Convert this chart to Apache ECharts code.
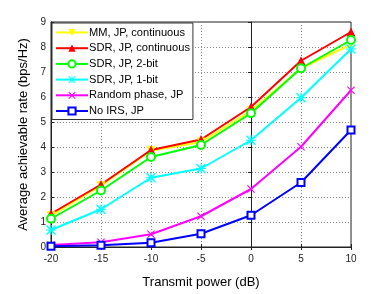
<!DOCTYPE html>
<html><head><meta charset="utf-8">
<script src="https://cdn.jsdelivr.net/npm/echarts@6/dist/echarts.min.js"></script>
<style>html,body{margin:0;padding:0;background:#fff}#c{width:388px;height:294px}</style>
</head><body><div id="c"></div>
<script>
var xValues = [-20, -15, -10, -5, 0, 5, 10];
var mmCont = [1.25, 2.45, 3.85, 4.2, 5.45, 7.15, 8.1];
var sdrCont = [1.33, 2.5, 3.88, 4.3, 5.6, 7.45, 8.6];
var sdr2bit = [1.13, 2.26, 3.6, 4.08, 5.35, 7.15, 8.28];
var sdr1bit = [0.68, 1.51, 2.77, 3.14, 4.27, 5.97, 7.92];
var randPhase = [0.08, 0.19, 0.51, 1.23, 2.32, 4.01, 6.27];
var noIrs = [0.03, 0.07, 0.17, 0.53, 1.27, 2.58, 4.68];
var seriesNames = ['MM, JP, continuous', 'SDR, JP, continuous', 'SDR, JP, 2-bit', 'SDR, JP, 1-bit', 'Random phase, JP', 'No IRS, JP'];
var yTicks = [0, 1, 2, 3, 4, 5, 6, 7, 8, 9];

var crossPath = 'path://M0,1 L1,0 L10,9 L9,10 Z M9,0 L10,1 L1,10 L0,9 Z';
var starPath = 'path://M0,1 L1,0 L10,9 L9,10 Z M9,0 L10,1 L1,10 L0,9 Z M4.4,0 L5.6,0 L5.6,10 L4.4,10 Z M0,4.4 L10,4.4 L10,5.6 L0,5.6 Z';
var downTri = 'path://M0,0 L10,0 L5,9 Z';

function pairs(arr){ return xValues.map(function(x,i){return [x, arr[i]];}); }
function mk(name, data, color, symbol, size, hollow){
  return {
    name: name, type: 'line', data: pairs(data), symbol: symbol, symbolSize: size,
    lineStyle: {color: color, width: 2}, itemStyle: hollow ? {color: '#fff', borderColor: color, borderWidth: 2} : {color: color},
    color: color, z: 3
  };
}
var chart = echarts.init(document.getElementById('c'));
var font = 'Liberation Sans, Arial, sans-serif';
chart.setOption({
  animation: false,
  textStyle: {fontFamily: font},
  grid: {left: 51, right: 37, top: 22, bottom: 38, show: true, borderColor: '#222', borderWidth: 1, backgroundColor: 'transparent'},
  legend: {
    data: seriesNames, orient: 'vertical', left: 52, top: 23, padding: [4, 3, 3, 3],
    itemWidth: 32, itemHeight: 9, itemGap: 4.7, backgroundColor: '#fff', borderColor: '#333', borderWidth: 1,
    textStyle: {fontSize: 11.1, color: '#000', fontFamily: font, padding: [0,0,0,-4]}
  },
  xAxis: [{
    type: 'value', min: -20, max: 10, interval: 5,
    name: 'Transmit power (dB)', nameLocation: 'middle', nameGap: 29,
    nameTextStyle: {fontSize: 13, color: '#000', fontFamily: font},
    axisLine: {show: true, onZero: false, lineStyle: {color: '#222'}},
    axisTick: {inside: true, length: 3, lineStyle: {color: '#222'}},
    axisLabel: {fontSize: 10, color: '#222', margin: 7},
    splitLine: {show: true, lineStyle: {color: '#888', type: [1, 2], width: 1}}
  }, {
    type: 'value', position: 'top', min: -20, max: 10, interval: 5,
    axisLine: {show: true, lineStyle: {color: '#222'}}, axisTick: {inside: true, length: 3, lineStyle:{color:'#222'}},
    axisLabel: {show: false}, splitLine: {show: false}
  }],
  yAxis: [{
    type: 'value', min: 0, max: 9, interval: 1,
    name: 'Average achievable rate (bps/Hz)', nameLocation: 'middle', nameGap: 14,
    nameTextStyle: {fontSize: 13, color: '#000', fontFamily: font},
    axisLine: {show: true, onZero: false, lineStyle: {color: '#222'}},
    axisTick: {inside: true, length: 3, lineStyle: {color: '#222'}},
    axisLabel: {fontSize: 10, color: '#222', margin: 5, formatter: function(v){return yTicks.indexOf(v) >= 0 ? String(v) : '';}},
    splitLine: {show: true, lineStyle: {color: '#888', type: [1, 2], width: 1}}
  }, {
    type: 'value', position: 'right', min: 0, max: 9, interval: 1,
    axisLine: {show: true, lineStyle: {color: '#222'}}, axisTick: {inside: true, length: 3, lineStyle:{color:'#222'}},
    axisLabel: {show: false}, splitLine: {show: false}
  }],
  series: [
    mk(seriesNames[0], mmCont, '#ffff00', downTri, 9, false),
    mk(seriesNames[1], sdrCont, '#ff0000', 'triangle', 9, false),
    mk(seriesNames[2], sdr2bit, '#00ff00', 'circle', 8, true),
    mk(seriesNames[3], sdr1bit, '#00ffff', starPath, 10, false),
    mk(seriesNames[4], randPhase, '#ff00ff', crossPath, 8, false),
    mk(seriesNames[5], noIrs, '#0000ff', 'rect', 7, true)
  ]
});
</script></body></html>
